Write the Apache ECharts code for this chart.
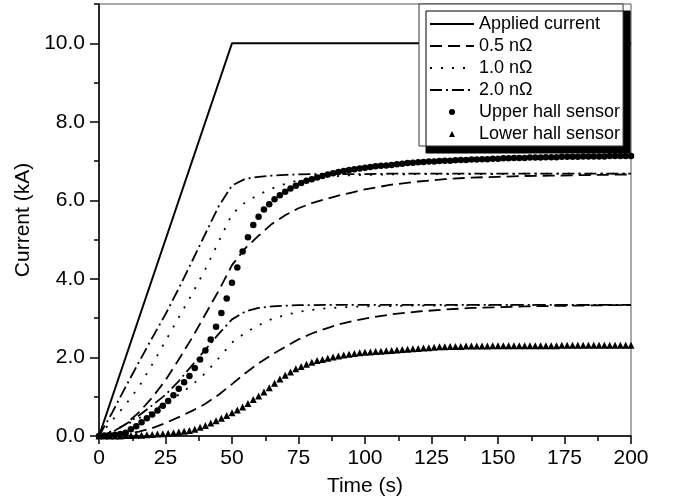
<!DOCTYPE html>
<html>
<head>
<meta charset="utf-8">
<title>Current vs time</title>
<script src="https://cdn.jsdelivr.net/npm/echarts@6/dist/echarts.min.js"></script>
<style>
  html, body { margin: 0; padding: 0; background: #fff; }
  #main { width: 674px; height: 502px; }
</style>
</head>
<body>
<div id="main"></div>
<script>
// time grids (s)
const tApplied = [0, 50, 200];
const tLine = [0, 5, 10, 15, 20, 25, 30, 35, 40, 45, 50, 55, 60, 65, 70, 75, 80, 85, 90, 95, 100,
  110, 120, 130, 140, 150, 160, 170, 180, 190, 200];
const tMarker = [0, 2, 4, 6, 8, 10, 12, 14, 16, 18, 20, 22, 24, 26, 28, 30, 32, 34, 36, 38,
  40, 42, 44, 46, 48, 50, 52, 54, 56, 58, 60, 62, 64, 66, 68, 70, 72, 74, 76, 78,
  80, 82, 84, 86, 88, 90, 92, 94, 96, 98, 100, 102, 104, 106, 108, 110, 112, 114, 116, 118,
  120, 122, 124, 126, 128, 130, 132, 134, 136, 138, 140, 142, 144, 146, 148, 150, 152, 154, 156, 158,
  160, 162, 164, 166, 168, 170, 172, 174, 176, 178, 180, 182, 184, 186, 188, 190, 192, 194, 196, 198, 200];

// current (kA)
const applied = [0, 10, 10];

const upper05 = [0, 0.1, 0.3, 0.6, 0.98, 1.42, 1.95, 2.5, 3.1, 3.7, 4.35, 4.78, 5.1, 5.4, 5.62, 5.8, 5.93, 6.03, 6.12, 6.2, 6.28,
  6.4, 6.48, 6.54, 6.58, 6.6, 6.62, 6.63, 6.64, 6.65, 6.66];
const upper10 = [0, 0.4, 0.8, 1.25, 1.82, 2.42, 3.02, 3.62, 4.25, 4.95, 5.65, 5.95, 6.15, 6.3, 6.42, 6.51, 6.56, 6.6, 6.62, 6.64, 6.65,
  6.66, 6.67, 6.67, 6.67, 6.67, 6.68, 6.68, 6.68, 6.68, 6.68];
const upper20 = [0, 0.6, 1.25, 1.88, 2.5, 3.1, 3.76, 4.45, 5.15, 5.85, 6.38, 6.55, 6.6, 6.63, 6.65, 6.66, 6.67, 6.67, 6.67, 6.67, 6.67,
  6.68, 6.68, 6.68, 6.68, 6.68, 6.68, 6.68, 6.68, 6.68, 6.68];

const lower05 = [0, 0.01, 0.05, 0.11, 0.2, 0.33, 0.48, 0.64, 0.82, 1.05, 1.32, 1.6, 1.85, 2.07, 2.27, 2.46, 2.61, 2.73, 2.84, 2.92, 2.99,
  3.1, 3.17, 3.22, 3.26, 3.28, 3.3, 3.31, 3.32, 3.33, 3.33];
const lower10 = [0, 0.13, 0.28, 0.45, 0.63, 0.84, 1.05, 1.3, 1.6, 1.98, 2.38, 2.63, 2.82, 2.98, 3.08, 3.16, 3.21, 3.25, 3.27, 3.29, 3.3,
  3.31, 3.32, 3.32, 3.33, 3.33, 3.33, 3.33, 3.33, 3.33, 3.33];
const lower20 = [0, 0.1, 0.3, 0.52, 0.78, 1.05, 1.4, 1.8, 2.2, 2.6, 2.97, 3.17, 3.26, 3.3, 3.32, 3.33, 3.33, 3.34, 3.34, 3.34, 3.34,
  3.34, 3.34, 3.34, 3.34, 3.34, 3.34, 3.34, 3.34, 3.34, 3.34];

const upperHall = [0, 0.01, 0.02, 0.03, 0.05, 0.08, 0.17, 0.25, 0.35, 0.45,
  0.55, 0.65, 0.77, 0.89, 1.04, 1.2, 1.37, 1.53, 1.73, 1.95,
  2.18, 2.46, 2.78, 3.13, 3.5, 3.9, 4.29, 4.7, 5.06, 5.37,
  5.58, 5.77, 5.9, 6.03, 6.13, 6.22, 6.3, 6.37, 6.44, 6.5,
  6.54, 6.58, 6.62, 6.66, 6.69, 6.72, 6.75, 6.77, 6.79, 6.81,
  6.83, 6.85, 6.87, 6.88, 6.89, 6.9, 6.92, 6.93, 6.95, 6.96,
  6.97, 6.98, 6.99, 6.99, 7.0, 7.01, 7.01, 7.02, 7.03, 7.03,
  7.04, 7.04, 7.05, 7.05, 7.06, 7.06, 7.07, 7.07, 7.08, 7.08,
  7.08, 7.09, 7.09, 7.09, 7.1, 7.1, 7.1, 7.11, 7.11, 7.11,
  7.11, 7.12, 7.12, 7.12, 7.12, 7.12, 7.13, 7.13, 7.13, 7.13,
  7.13];
const lowerHall = [0, 0, 0, 0, 0, 0.01, 0.01, 0.02, 0.02, 0.03,
  0.04, 0.05, 0.06, 0.07, 0.08, 0.1, 0.12, 0.14, 0.17, 0.22,
  0.27, 0.33, 0.39, 0.45, 0.52, 0.59, 0.66, 0.74, 0.83, 0.93,
  1.02, 1.12, 1.23, 1.34, 1.45, 1.55, 1.63, 1.71, 1.77, 1.83,
  1.88, 1.92, 1.95, 1.98, 2.01, 2.04, 2.06, 2.08, 2.1, 2.12,
  2.13, 2.14, 2.15, 2.16, 2.17, 2.18, 2.19, 2.2, 2.21, 2.22,
  2.23, 2.24, 2.25, 2.26, 2.27, 2.27, 2.28, 2.28, 2.28, 2.29,
  2.29, 2.29, 2.29, 2.29, 2.3, 2.3, 2.3, 2.3, 2.3, 2.3,
  2.3, 2.3, 2.3, 2.3, 2.3, 2.3, 2.3, 2.31, 2.31, 2.31,
  2.31, 2.31, 2.31, 2.31, 2.31, 2.31, 2.31, 2.31, 2.31, 2.31,
  2.31];

const yMajor = [0, 2, 4, 6, 8, 10];
const yMinor = [1, 3, 5, 7, 9, 11];

const FONT = "'Liberation Sans', Arial, sans-serif";
const DASH = [12, 6];
const DOT = [2, 9];
const DASHDOT = [12, 4, 2, 4];

function pairs(ts, vs) {
  return ts.map(function (t, i) { return [t, vs[i]]; });
}

function lineSeries(name, ts, vs, type, width) {
  return {
    name: name,
    type: 'line',
    data: pairs(ts, vs),
    symbol: 'none',
    lineStyle: { color: '#000', width: width || 1.8, type: type },
    itemStyle: { color: '#000' },
    z: 2
  };
}

// line entries in the legend: hide the symbol, keep the line sample
function lineItem(name) {
  return { name: name, itemStyle: { opacity: 0 } };
}

const chart = echarts.init(document.getElementById('main'), null, { renderer: 'canvas' });

const option = {
  animation: false,
  textStyle: { fontFamily: FONT, color: '#000' },
  grid: {
    left: 99, right: 43, top: 4, bottom: 65,
    show: true, borderColor: '#555', borderWidth: 1, backgroundColor: 'transparent'
  },
  legend: {
    orient: 'vertical',
    left: 419,
    top: 4,
    padding: [11, 3, 3, 10],
    itemWidth: 44,
    itemHeight: 6,
    itemGap: 4,
    symbolKeepAspect: true,
    backgroundColor: '#fff',
    borderColor: '#333',
    borderWidth: 1,
    shadowColor: '#000',
    shadowBlur: 0,
    shadowOffsetX: 7,
    shadowOffsetY: 7,
    textStyle: { fontFamily: FONT, fontSize: 18, color: '#000' },
    data: [
      lineItem('Applied current'),
      lineItem('0.5 nΩ'),
      lineItem('1.0 nΩ'),
      lineItem('2.0 nΩ'),
      { name: 'Upper hall sensor', icon: 'circle' },
      { name: 'Lower hall sensor', icon: 'path://M3,0L6,6L0,6Z' }
    ]
  },
  xAxis: {
    type: 'value',
    min: 0,
    max: 200,
    interval: 25,
    name: 'Time (s)',
    nameLocation: 'middle',
    nameGap: 40,
    nameTextStyle: { fontFamily: FONT, fontSize: 21, color: '#000' },
    axisLine: { show: true, lineStyle: { color: '#000', width: 1.5 } },
    axisTick: { show: true, length: 8, lineStyle: { color: '#000', width: 1.5 } },
    minorTick: { show: true, splitNumber: 2, length: 5, lineStyle: { color: '#000', width: 1.5 } },
    axisLabel: { fontFamily: FONT, fontSize: 21, color: '#000', margin: 12 },
    splitLine: { show: false }
  },
  yAxis: [
    {
      type: 'value',
      min: 0,
      max: 11,
      position: 'left',
      name: 'Current (kA)',
      nameLocation: 'middle',
      nameGap: 49,
      nameTextStyle: { fontFamily: FONT, fontSize: 21, color: '#000' },
      axisLine: { show: true, lineStyle: { color: '#000', width: 1.5 } },
      axisTick: { show: true, length: 9, customValues: yMajor, lineStyle: { color: '#000', width: 1.5 } },
      axisLabel: {
        fontFamily: FONT, fontSize: 21, color: '#000', margin: 14,
        customValues: yMajor,
        formatter: function (v) { return v.toFixed(1); }
      },
      splitLine: { show: false }
    },
    {
      type: 'value',
      min: 0,
      max: 11,
      position: 'left',
      axisLine: { show: false },
      axisTick: { show: true, length: 5, customValues: yMinor, lineStyle: { color: '#000', width: 1.5 } },
      axisLabel: { show: false },
      splitLine: { show: false }
    }
  ],
  series: [
    lineSeries('Applied current', tApplied, applied, 'solid', 2),
    lineSeries('0.5 nΩ', tLine, upper05, DASH),
    lineSeries('0.5 nΩ', tLine, lower05, DASH),
    lineSeries('1.0 nΩ', tLine, upper10, DOT),
    lineSeries('1.0 nΩ', tLine, lower10, DOT),
    lineSeries('2.0 nΩ', tLine, upper20, DASHDOT),
    lineSeries('2.0 nΩ', tLine, lower20, DASHDOT),
    {
      name: 'Upper hall sensor',
      type: 'scatter',
      data: pairs(tMarker, upperHall),
      symbol: 'circle',
      symbolSize: 6.5,
      itemStyle: { color: '#000', opacity: 1 },
      z: 3
    },
    {
      name: 'Lower hall sensor',
      type: 'scatter',
      data: pairs(tMarker, lowerHall),
      symbol: 'triangle',
      symbolSize: 7,
      itemStyle: { color: '#000', opacity: 1 },
      z: 3
    }
  ]
};

chart.setOption(option);
</script>
</body>
</html>
